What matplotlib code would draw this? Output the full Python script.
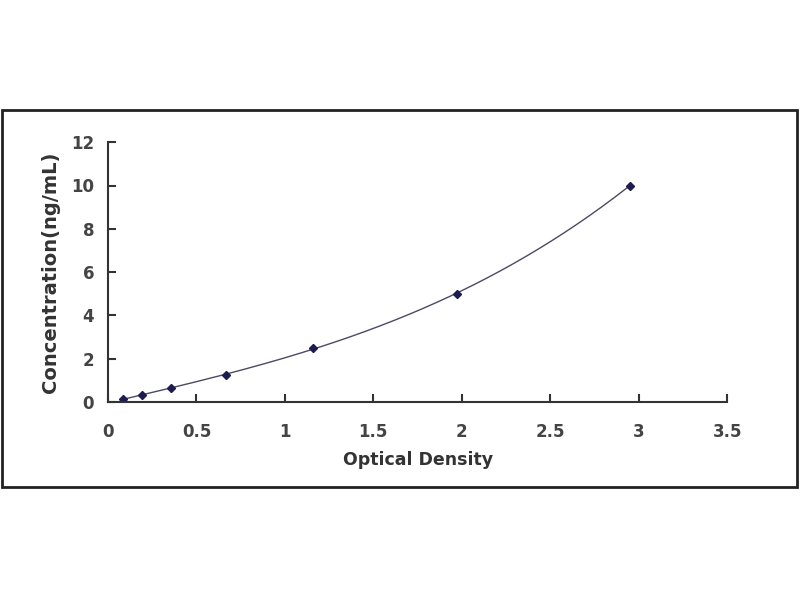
import matplotlib
matplotlib.use("Agg")
import matplotlib.pyplot as plt
import numpy as np
from matplotlib.patches import Rectangle

# standard curve points
od = [0.085, 0.19, 0.354, 0.665, 1.16, 1.97, 2.95]
conc = [0.156, 0.312, 0.625, 1.25, 2.5, 5.0, 10.0]

x_ticks = [0, 0.5, 1, 1.5, 2, 2.5, 3, 3.5]
x_tick_labels = ["0", "0.5", "1", "1.5", "2", "2.5", "3", "3.5"]
y_ticks = [0, 2, 4, 6, 8, 10, 12]

plt.rcParams['font.family'] = ['DejaVu Sans']

fig = plt.figure(figsize=(8, 6), dpi=100)
fig.patches.append(Rectangle((0.002, 1 - 487 / 600), 0.994, 377 / 600,
                             transform=fig.transFigure, fill=False,
                             edgecolor="#222222", linewidth=2))

ax = fig.add_axes([0.135, 0.33, 0.774, 0.433])

# smooth fitted curve through the standards
coef = np.polyfit(od, conc, 3)
xs = np.linspace(od[0], od[-1], 200)
ax.plot(xs, np.polyval(coef, xs), color="#4a4a66", linewidth=1.0)
ax.plot(od, conc, linestyle="none", marker="D", markersize=4,
        color="#1c1c50")

ax.set_xlim(0, 3.5)
ax.set_ylim(0, 12)
ax.set_xticks(x_ticks)
ax.set_xticklabels(x_tick_labels)
ax.set_yticks(y_ticks)

for s in ["top", "right"]:
    ax.spines[s].set_visible(False)
for s in ["left", "bottom"]:
    ax.spines[s].set_linewidth(1.5)
    ax.spines[s].set_color("#333333")

ax.tick_params(direction="in", length=6, width=1.5, colors="#333333",
               labelsize=12)
ax.tick_params(axis="x", pad=15)
ax.tick_params(axis="y", pad=10)
for lbl in ax.get_xticklabels() + ax.get_yticklabels():
    lbl.set_fontweight("bold")
    lbl.set_color("#444444")

ax.set_xlabel("Optical Density", fontsize=12.5, fontweight="bold",
              color="#333333", labelpad=7)
ax.set_ylabel("Concentration(ng/mL)", fontsize=14, fontweight="bold",
              color="#333333", labelpad=8)

fig.savefig("out.png", dpi=100, facecolor="white")
